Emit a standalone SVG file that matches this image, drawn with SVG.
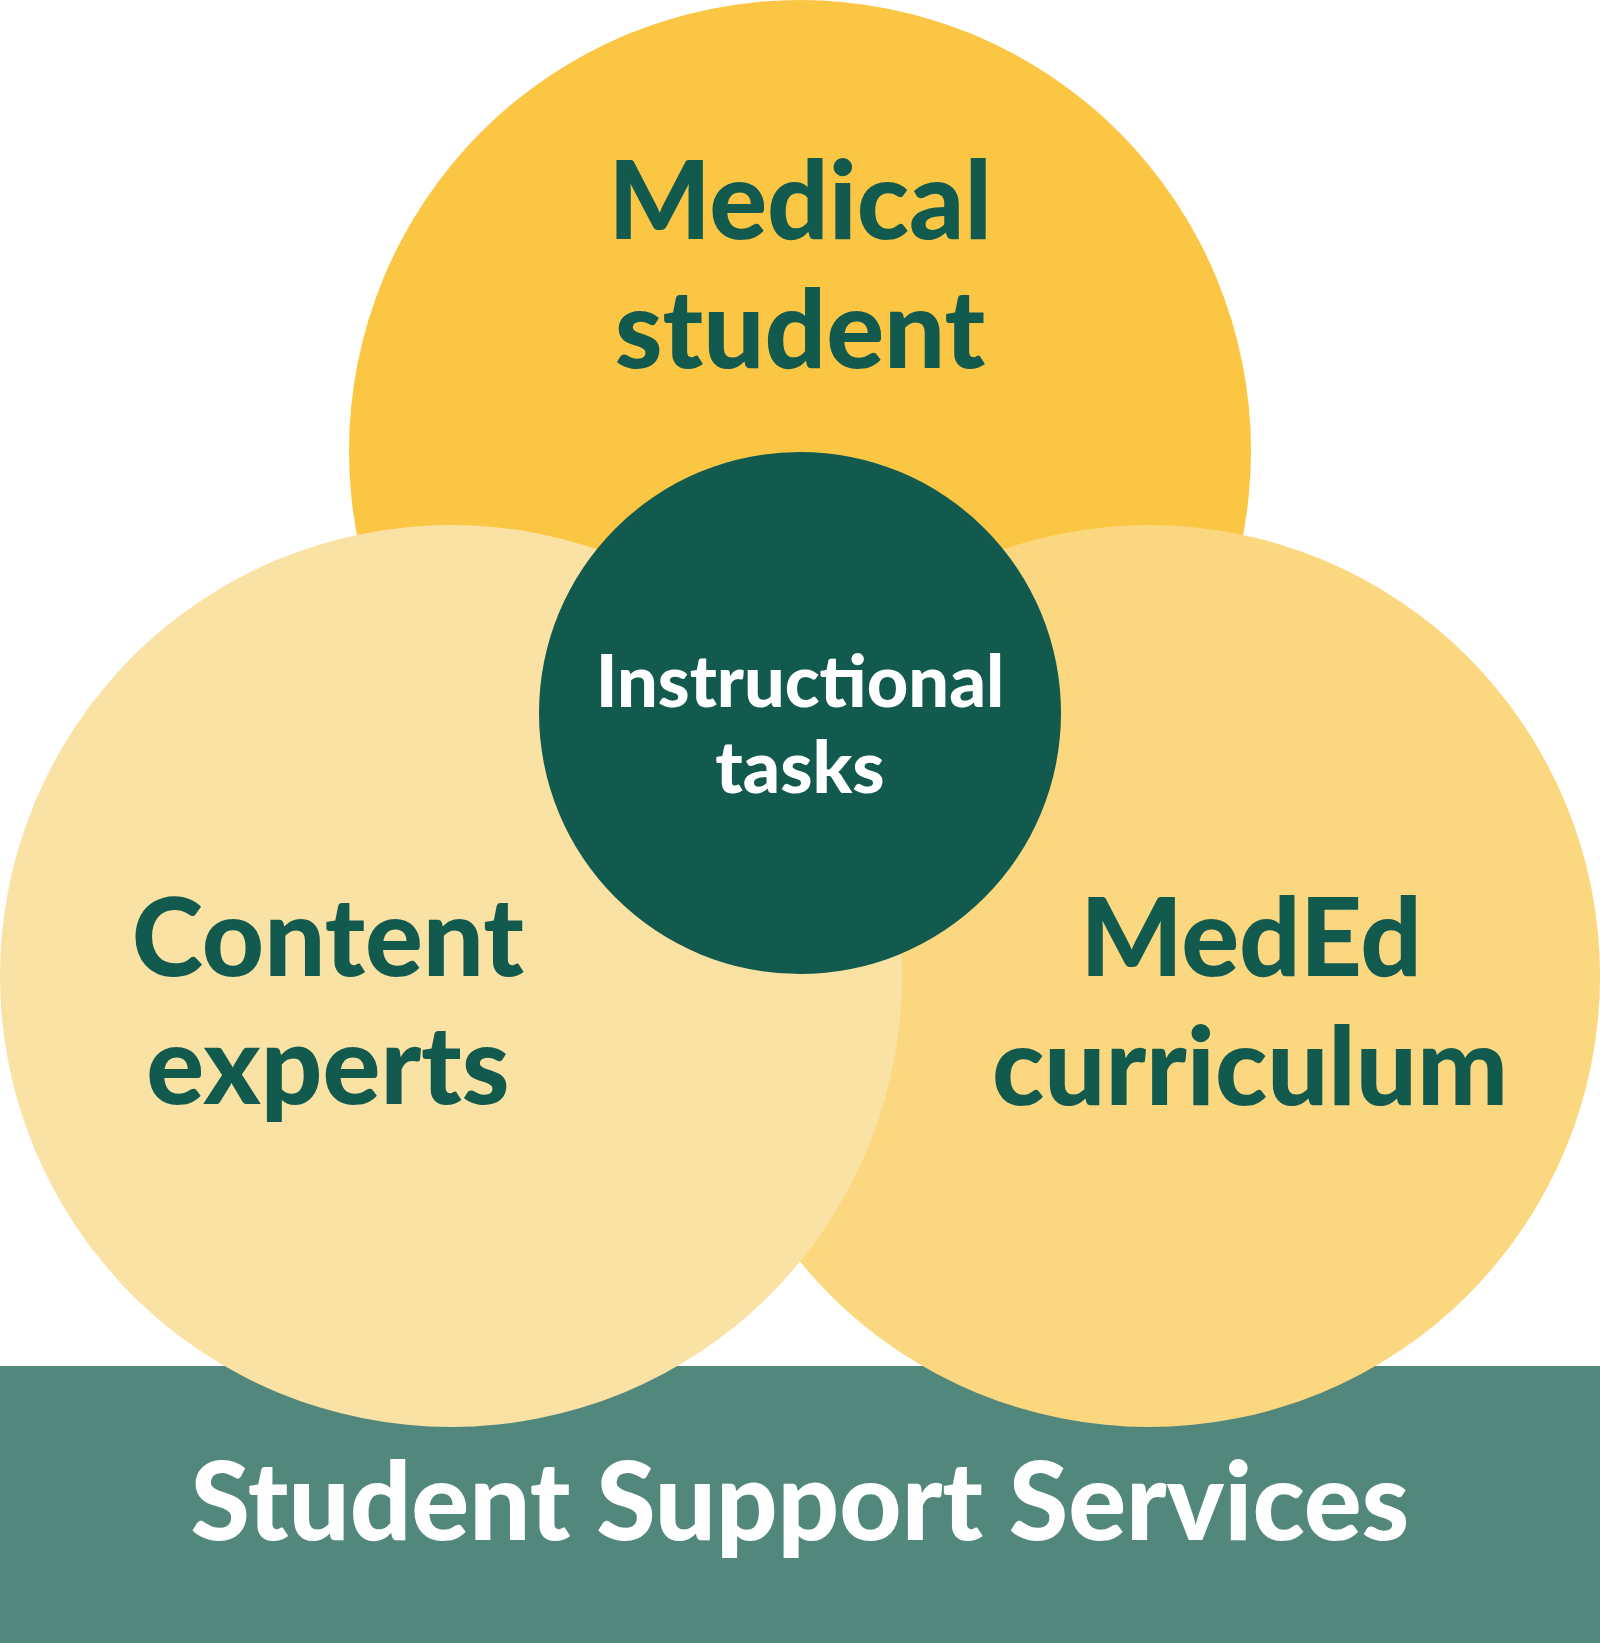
<svg xmlns="http://www.w3.org/2000/svg" width="1600" height="1643" viewBox="0 0 1600 1643">
<style>
text{font-family:Lato,"Liberation Sans",sans-serif;font-weight:900;text-anchor:middle}
.dk{fill:#125A4E;font-size:108px}
.wt{fill:#FFFFFF}
</style>
<rect x="0" y="0" width="1600" height="1643" fill="#FFFFFF"/>
<g id="support">
<rect x="0" y="1366" width="1600" height="277" fill="#52877C"/>
<text class="wt" x="800" y="1540" font-size="108">Student Support Services</text>
</g>
<g id="medical-student">
<circle cx="800" cy="451" r="451" fill="#FCC645"/>
</g>
<g id="meded-curriculum">
<circle cx="1149" cy="976" r="451" fill="#FBD77F"/>
</g>
<g id="content-experts">
<circle cx="451" cy="976" r="451" fill="#FAE1A4"/>
</g>
<g id="instructional-tasks">
<circle cx="800" cy="713" r="261" fill="#125A4E"/>
</g>
<g id="labels">
<text class="dk" x="800" y="239">Medical</text>
<text class="dk" x="800" y="368">student</text>
<text class="dk" x="328" y="976">Content</text>
<text class="dk" x="328" y="1104">experts</text>
<text class="dk" x="1251" y="976">MedEd</text>
<text class="dk" x="1250" y="1105">curriculum</text>
<text class="wt" x="800" y="707" font-size="72">Instructional</text>
<text class="wt" x="800" y="793" font-size="73">tasks</text>
</g>
<g id="connectors"/>
</svg>
